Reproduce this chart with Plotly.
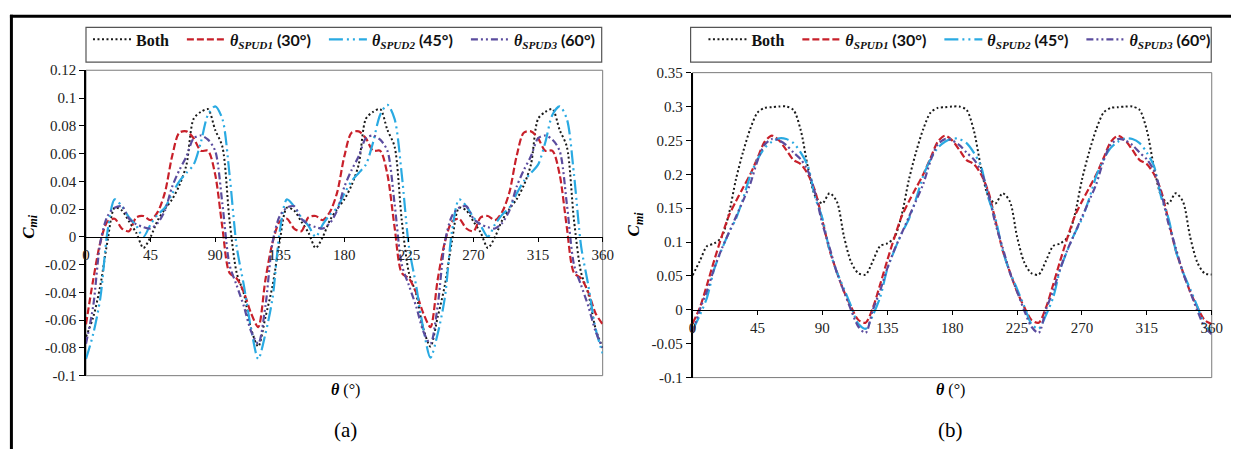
import plotly.graph_objects as go

W, H = 1242, 457

theta = list(range(0, 361, 5))

# ---------------- panel (a) ----------------
a_both = [
    -0.072, -0.058, -0.035, -0.003, 0.021, 0.019, 0.011, 0.003, -0.008, 0.000, 0.012, 0.020,
    0.027, 0.037, 0.052, 0.085, 0.090, 0.092, 0.077, 0.065, 0.012, -0.026, -0.041, -0.066,
    -0.079, -0.058, -0.035, -0.003, 0.021, 0.019, 0.011, 0.003, -0.008, 0.000, 0.012, 0.020,
    0.027, 0.037, 0.052, 0.085, 0.090, 0.092, 0.077, 0.065, 0.012, -0.026, -0.041, -0.066,
    -0.079, -0.058, -0.035, -0.003, 0.021, 0.019, 0.011, 0.003, -0.008, 0.000, 0.012, 0.020,
    0.027, 0.037, 0.052, 0.085, 0.090, 0.092, 0.077, 0.065, 0.012, -0.026, -0.041, -0.066,
    -0.080]
a_spud1 = [
    -0.063, -0.031, -0.004, 0.011, 0.013, 0.006, 0.004, 0.014, 0.015, 0.012, 0.018, 0.032,
    0.058, 0.075, 0.076, 0.071, 0.062, 0.062, 0.045, 0.007, -0.026, -0.030, -0.040, -0.055,
    -0.065, -0.031, -0.004, 0.011, 0.013, 0.006, 0.004, 0.014, 0.015, 0.012, 0.018, 0.032,
    0.058, 0.075, 0.076, 0.071, 0.062, 0.062, 0.045, 0.007, -0.026, -0.030, -0.040, -0.055,
    -0.065, -0.031, -0.004, 0.011, 0.013, 0.006, 0.004, 0.014, 0.015, 0.012, 0.018, 0.032,
    0.058, 0.075, 0.076, 0.071, 0.062, 0.062, 0.045, 0.007, -0.026, -0.030, -0.040, -0.055,
    -0.063]
a_spud2 = [
    -0.088, -0.070, -0.044, 0.004, 0.027, 0.022, 0.014, 0.008, 0.000, 0.009, 0.016, 0.021,
    0.031, 0.040, 0.046, 0.052, 0.068, 0.088, 0.094, 0.085, 0.045, -0.007, -0.035, -0.066,
    -0.088, -0.070, -0.044, 0.004, 0.027, 0.022, 0.014, 0.008, 0.000, 0.009, 0.016, 0.021,
    0.031, 0.040, 0.046, 0.052, 0.068, 0.088, 0.095, 0.085, 0.045, -0.007, -0.035, -0.066,
    -0.087, -0.070, -0.044, 0.004, 0.027, 0.022, 0.014, 0.008, 0.000, 0.009, 0.016, 0.021,
    0.031, 0.040, 0.046, 0.052, 0.068, 0.088, 0.094, 0.085, 0.045, -0.007, -0.035, -0.066,
    -0.084]
a_spud3 = [
    -0.077, -0.050, -0.004, 0.015, 0.021, 0.022, 0.013, 0.009, 0.007, 0.006, 0.010, 0.019,
    0.036, 0.048, 0.058, 0.071, 0.073, 0.070, 0.062, 0.024, -0.020, -0.035, -0.050, -0.068,
    -0.077, -0.050, -0.004, 0.015, 0.021, 0.022, 0.013, 0.009, 0.007, 0.006, 0.010, 0.019,
    0.036, 0.048, 0.058, 0.071, 0.073, 0.070, 0.062, 0.024, -0.020, -0.035, -0.050, -0.068,
    -0.077, -0.050, -0.004, 0.015, 0.021, 0.022, 0.013, 0.009, 0.007, 0.006, 0.010, 0.019,
    0.036, 0.048, 0.058, 0.071, 0.073, 0.070, 0.062, 0.024, -0.020, -0.035, -0.050, -0.068,
    -0.080]

# ---------------- panel (b) ----------------
b_both = [
    0.051, 0.072, 0.094, 0.098, 0.107, 0.140, 0.192, 0.233, 0.267, 0.291, 0.298, 0.299,
    0.300, 0.300, 0.295, 0.265, 0.210, 0.168, 0.157, 0.172, 0.160, 0.108, 0.070, 0.054,
    0.052, 0.072, 0.094, 0.098, 0.107, 0.140, 0.192, 0.233, 0.267, 0.291, 0.298, 0.299,
    0.300, 0.300, 0.295, 0.265, 0.210, 0.168, 0.157, 0.172, 0.160, 0.108, 0.070, 0.054,
    0.052, 0.072, 0.094, 0.098, 0.107, 0.140, 0.192, 0.233, 0.267, 0.291, 0.298, 0.299,
    0.300, 0.300, 0.295, 0.265, 0.210, 0.168, 0.157, 0.172, 0.160, 0.108, 0.070, 0.054,
    0.052]
b_spud1 = [
    -0.020, 0.003, 0.037, 0.073, 0.107, 0.138, 0.160, 0.180, 0.200, 0.224, 0.248, 0.257,
    0.250, 0.236, 0.221, 0.215, 0.200, 0.175, 0.132, 0.088, 0.056, 0.027, 0.004, -0.015,
    -0.019, 0.003, 0.037, 0.073, 0.107, 0.138, 0.160, 0.180, 0.200, 0.224, 0.248, 0.257,
    0.250, 0.236, 0.221, 0.215, 0.200, 0.175, 0.132, 0.088, 0.056, 0.027, 0.004, -0.015,
    -0.019, 0.003, 0.037, 0.073, 0.107, 0.138, 0.160, 0.180, 0.200, 0.224, 0.248, 0.257,
    0.250, 0.236, 0.221, 0.215, 0.200, 0.175, 0.132, 0.088, 0.056, 0.027, 0.004, -0.015,
    -0.021]
b_spud2 = [
    -0.030, -0.008, 0.018, 0.060, 0.088, 0.113, 0.134, 0.164, 0.198, 0.222, 0.239, 0.248,
    0.253, 0.252, 0.246, 0.232, 0.212, 0.166, 0.135, 0.088, 0.056, 0.031, 0.005, -0.021,
    -0.028, -0.008, 0.018, 0.060, 0.088, 0.113, 0.134, 0.164, 0.198, 0.222, 0.239, 0.248,
    0.253, 0.252, 0.246, 0.232, 0.212, 0.166, 0.135, 0.088, 0.056, 0.031, 0.005, -0.021,
    -0.028, -0.008, 0.018, 0.060, 0.088, 0.113, 0.134, 0.164, 0.198, 0.222, 0.239, 0.248,
    0.253, 0.252, 0.246, 0.232, 0.212, 0.166, 0.135, 0.088, 0.056, 0.031, 0.005, -0.021,
    -0.033]
b_spud3 = [
    -0.034, 0.000, 0.028, 0.061, 0.089, 0.113, 0.137, 0.161, 0.186, 0.220, 0.244, 0.252,
    0.250, 0.243, 0.232, 0.222, 0.205, 0.172, 0.127, 0.092, 0.055, 0.027, -0.001, -0.025,
    -0.034, 0.000, 0.028, 0.061, 0.089, 0.113, 0.137, 0.161, 0.186, 0.220, 0.244, 0.252,
    0.250, 0.243, 0.232, 0.222, 0.205, 0.172, 0.127, 0.092, 0.055, 0.027, -0.001, -0.025,
    -0.034, 0.000, 0.028, 0.061, 0.089, 0.113, 0.137, 0.161, 0.186, 0.220, 0.244, 0.252,
    0.250, 0.243, 0.232, 0.222, 0.205, 0.172, 0.127, 0.092, 0.055, 0.027, -0.001, -0.025,
    -0.036]

x_ticks = [0, 45, 90, 135, 180, 225, 270, 315, 360]
a_yticks = [0.12, 0.1, 0.08, 0.06, 0.04, 0.02, 0, -0.02, -0.04, -0.06, -0.08, -0.1]
a_ytext = ["0.12", "0.1", "0.08", "0.06", "0.04", "0.02", "0", "-0.02", "-0.04", "-0.06", "-0.08", "-0.1"]
b_yticks = [0.35, 0.3, 0.25, 0.2, 0.15, 0.1, 0.05, 0, -0.05, -0.1]
b_ytext = ["0.35", "0.3", "0.25", "0.2", "0.15", "0.1", "0.05", "0", "-0.05", "-0.1"]

NB = "\u00a0"
series_names = [
    "<b>Both</b>" + NB * 2,
    "<b><i>θ</i><sub><i>SPUD1</i></sub><span style='font-family:Lato'> (30°)</span></b>" + NB * 2,
    "<b><i>θ</i><sub><i>SPUD2</i></sub><span style='font-family:Lato'> (45°)</span></b>" + NB * 2,
    "<b><i>θ</i><sub><i>SPUD3</i></sub><span style='font-family:Lato'> (60°)</span></b>",
]
styles = [
    dict(color="#1a1a1a", width=2, dash="2px,2.5px"),
    dict(color="#C8202A", width=2.2, dash="7px,3px"),
    dict(color="#2AAAE2", width=2.2, dash="14px,4px,2px,4px,2px,4px"),
    dict(color="#5B4C9E", width=2.2, dash="7px,3px,2px,3px,2px,3px"),
]

def px_x(p):
    return p / W

def px_y(p):
    return 1 - p / H

# plot-area geometry in pixels
A_L, A_R, A_T, A_B = 83, 606, 64.5, 381
B_L, B_R, B_T, B_B = 697, 1222.5, 67, 383
a_range = [-0.1, 0.12]
b_range = [-0.1, 0.35]

fig = go.Figure()
for name, ys, st in zip(series_names, [a_both, a_spud1, a_spud2, a_spud3], styles):
    fig.add_trace(go.Scatter(x=theta, y=ys, mode="lines", name=name, line=dict(**st, shape="spline", smoothing=0.8),
                             xaxis="x", yaxis="y", legend="legend"))
for name, ys, st in zip(series_names, [b_both, b_spud1, b_spud2, b_spud3], styles):
    fig.add_trace(go.Scatter(x=theta, y=ys, mode="lines", name=name, line=dict(**st, shape="spline", smoothing=0.8),
                             xaxis="x2", yaxis="y2", legend="legend2"))

serif = "Liberation Serif"
tickfont = dict(family=serif, size=15, color="#222")

def zero_pos(rng, top, bottom):
    y0 = px_y(bottom)
    y1 = px_y(top)
    return y0 + (0 - rng[0]) / (rng[1] - rng[0]) * (y1 - y0)

legend_common = dict(orientation="h", xanchor="left", yanchor="top", bgcolor="rgba(0,0,0,0)",
                     borderwidth=0, itemwidth=38, font=dict(family=serif, size=16, color="#111"))

fig.update_layout(
    width=W, height=H,
    margin=dict(l=0, r=0, t=0, b=0),
    paper_bgcolor="white", plot_bgcolor="white",
    xaxis=dict(domain=[px_x(A_L), px_x(A_R)], range=[0, 360], anchor="free",
               position=zero_pos(a_range, A_T, A_B), tickvals=x_ticks, ticks="outside", ticklen=4,
               tickcolor="black", showline=True, linecolor="black", linewidth=1.3, showgrid=False,
               zeroline=False, tickfont=tickfont),
    yaxis=dict(domain=[px_y(A_B), px_y(A_T)], range=a_range, anchor="x", tickvals=a_yticks, ticktext=a_ytext,
               ticks="outside", ticklen=5, tickcolor="black", showline=True, linecolor="black", linewidth=1.5,
               showgrid=False, zeroline=False, tickfont=tickfont),
    xaxis2=dict(domain=[px_x(B_L), px_x(B_R)], range=[0, 360], anchor="free",
                position=zero_pos(b_range, B_T, B_B), tickvals=x_ticks, ticks="outside", ticklen=4,
                tickcolor="black", showline=True, linecolor="black", linewidth=1.3, showgrid=False,
                zeroline=False, tickfont=tickfont),
    yaxis2=dict(domain=[px_y(B_B), px_y(B_T)], range=b_range, anchor="x2", tickvals=b_yticks, ticktext=b_ytext,
                ticks="outside", ticklen=5, tickcolor="black", showline=True, linecolor="black", linewidth=1.5,
                showgrid=False, zeroline=False, tickfont=tickfont),
    legend=dict(x=px_x(85), y=px_y(15), **legend_common),
    legend2=dict(x=px_x(708), y=px_y(15), **legend_common),
    showlegend=True,
)

shapes = []
for xr, yr in [("x domain", "y domain"), ("x2 domain", "y2 domain")]:
    shapes.append(dict(type="rect", xref=xr, yref=yr, x0=0, x1=1, y0=0, y1=1,
                       line=dict(color="#7a7a7a", width=1), layer="below"))
shapes.append(dict(type="rect", xref="paper", yref="paper", x0=px_x(83), x1=px_x(605), y0=px_y(56), y1=px_y(20),
                   line=dict(color="#555", width=1.2)))
shapes.append(dict(type="rect", xref="paper", yref="paper", x0=px_x(695), x1=px_x(1222), y0=px_y(56), y1=px_y(20),
                   line=dict(color="#555", width=1.2)))
shapes.append(dict(type="line", xref="paper", yref="paper", x0=px_x(6), x1=1, y0=px_y(8.5), y1=px_y(8.5),
                   line=dict(color="black", width=3)))
shapes.append(dict(type="line", xref="paper", yref="paper", x0=px_x(7.5), x1=px_x(7.5), y0=0, y1=px_y(7),
                   line=dict(color="black", width=3)))
fig.update_layout(shapes=shapes)

ann = []
cmi = "<b><i>C</i></b><sub><b><i>mi</i></b></sub>"
common = dict(xref="paper", yref="paper", showarrow=False, xanchor="center", yanchor="middle")
ann.append(dict(x=px_x(26), y=px_y(226), text=cmi, textangle=-90, font=dict(family=serif, size=17, color="black"), **common))
ann.append(dict(x=px_x(639), y=px_y(224), text=cmi, textangle=-90, font=dict(family=serif, size=17, color="black"), **common))
ann.append(dict(x=px_x(346), y=px_y(396), text="<b><i>θ</i></b> (°)", font=dict(family=serif, size=16, color="black"), **common))
ann.append(dict(x=px_x(958), y=px_y(396), text="<b><i>θ</i></b> (°)", font=dict(family=serif, size=16, color="black"), **common))
ann.append(dict(x=px_x(346), y=px_y(437), text="(a)", font=dict(family=serif, size=21, color="black"), **common))
ann.append(dict(x=px_x(958), y=px_y(437), text="(b)", font=dict(family=serif, size=21, color="black"), **common))
fig.update_layout(annotations=ann)

fig.write_html("out.html")
